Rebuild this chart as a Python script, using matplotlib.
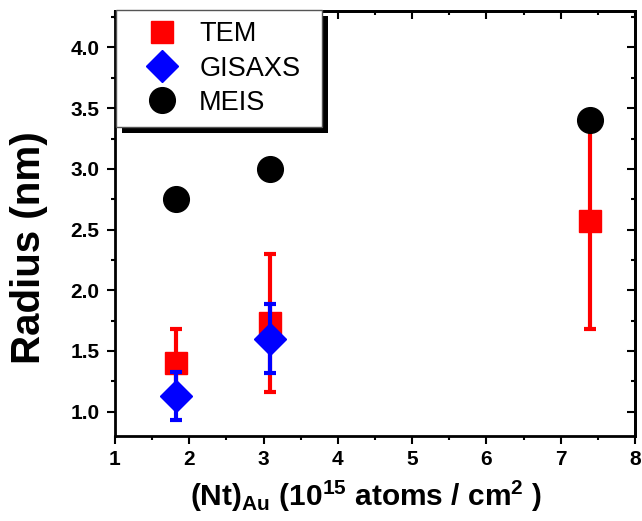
import matplotlib
matplotlib.use('Agg')
import matplotlib.pyplot as plt
from matplotlib.lines import Line2D
from matplotlib.patches import Rectangle
from matplotlib.ticker import MultipleLocator, FormatStrFormatter

plt.rcParams['font.family'] = ['Liberation Sans', 'DejaVu Sans']
plt.rcParams['font.weight'] = 'bold'
plt.rcParams['mathtext.fontset'] = 'custom'
plt.rcParams['mathtext.rm'] = 'Liberation Sans:bold'
plt.rcParams['mathtext.bf'] = 'Liberation Sans:bold'
plt.rcParams['mathtext.it'] = 'Liberation Sans:bold'
plt.rcParams['mathtext.default'] = 'bf'

# ---- data ----
tem_x = [1.82, 3.09, 7.40]
tem_y = [1.40, 1.73, 2.57]
tem_err = [0.28, 0.57, 0.89]

gis_x = [1.82, 3.09]
gis_y = [1.13, 1.60]
gis_err = [0.20, 0.285]

meis_x = [1.82, 3.09, 7.40]
meis_y = [2.75, 3.00, 3.40]

labels = ['TEM', 'GISAXS', 'MEIS']
x_ticks = [1, 2, 3, 4, 5, 6, 7, 8]
y_ticks = [1.0, 1.5, 2.0, 2.5, 3.0, 3.5, 4.0]

W, H = 642, 521
fig = plt.figure(figsize=(W / 100, H / 100), dpi=100)
ax = fig.add_axes([115 / W, (H - 436) / H, 520 / W, 425 / H])

red = '#ff0000'
blue = '#0000ff'

# TEM
ax.errorbar(tem_x, tem_y, yerr=tem_err, fmt='none', ecolor=red, elinewidth=3,
            capsize=4.3, capthick=3, zorder=2)
ax.plot(tem_x, tem_y, ls='none', marker='s', ms=16, color=red, mec=red, zorder=3)
# GISAXS
ax.errorbar(gis_x, gis_y, yerr=gis_err, fmt='none', ecolor=blue, elinewidth=3,
            capsize=4.3, capthick=3, zorder=4)
ax.plot(gis_x, gis_y, ls='none', marker='D', ms=16, color=blue, mec=blue, zorder=4.1)
# MEIS
ax.plot(meis_x, meis_y, ls='none', marker='o', ms=18.5, color='black', zorder=4.2)

ax.set_xlim(1, 8)
ax.set_ylim(0.8, 4.3)
ax.set_xticks(x_ticks)
ax.set_yticks(y_ticks)
ax.xaxis.set_minor_locator(MultipleLocator(0.5))
ax.yaxis.set_minor_locator(MultipleLocator(0.25))
ax.yaxis.set_major_formatter(FormatStrFormatter('%.1f'))
ax.tick_params(which='both', direction='out', width=1.5, labelsize=15)
ax.tick_params(axis='x', which='both', pad=4)
ax.tick_params(axis='y', which='both', pad=5)
ax.tick_params(which='major', length=6)
ax.tick_params(which='minor', length=3)
for s in ax.spines.values():
    s.set_linewidth(2)

# top / right inward ticks
sx = ax.secondary_xaxis('top')
sx.set_xticks(x_ticks)
sx.xaxis.set_minor_locator(MultipleLocator(0.5))
sx.tick_params(which='both', direction='in', width=1.5, labeltop=False)
sx.tick_params(which='major', length=6)
sx.tick_params(which='minor', length=3)
sx.spines['top'].set_linewidth(2)
sy = ax.secondary_yaxis('right')
sy.set_yticks(y_ticks)
sy.yaxis.set_minor_locator(MultipleLocator(0.25))
sy.tick_params(which='both', direction='in', width=1.5, labelright=False)
sy.tick_params(which='major', length=6)
sy.tick_params(which='minor', length=3)
sy.spines['right'].set_linewidth(2)

ax.set_ylabel('Radius (nm)', fontsize=29, fontweight='bold', va='center')
ax.yaxis.set_label_coords((29 - 115) / 520, (436 - 248) / 425)
ax.set_xlabel(r'(Nt)$_{Au}$ (10$^{15}$ atoms / cm$^{2}$ )', fontsize=21.5,
              fontweight='bold', va='center')
ax.xaxis.set_label_coords((366 - 115) / 520, (436 - 496) / 425)

handles = [
    Line2D([], [], ls='none', marker='s', ms=16, color=red),
    Line2D([], [], ls='none', marker='D', ms=16, color=blue),
    Line2D([], [], ls='none', marker='o', ms=18.5, color='black'),
]
x0, y0 = 116 / W, 1 - 10 / H
lw_, lh_ = (322 - 116) / W, (125 - 10) / H
leg = ax.legend(handles, labels, loc='upper left',
                bbox_to_anchor=(x0, y0 - lh_, lw_, lh_), bbox_transform=fig.transFigure,
                mode='expand', borderaxespad=0, borderpad=0.42, handlelength=2.55,
                handletextpad=0.1, labelspacing=0.3, fancybox=False,
                prop={'size': 19.5, 'weight': 'normal'}, frameon=True)
leg.get_frame().set_edgecolor('#555555')
leg.get_frame().set_linewidth(1)
leg.get_frame().set_alpha(1)
leg.set_zorder(10)

fig.canvas.draw()
bb = leg.get_window_extent()
off = 6
shadow = Rectangle(((bb.x0 + off) / W, (bb.y0 - off) / H), bb.width / W, bb.height / H,
                   transform=fig.transFigure, facecolor='black', edgecolor='none',
                   zorder=9.9, clip_on=False)
ax.add_artist(shadow)

fig.savefig('out.png', dpi=100)
